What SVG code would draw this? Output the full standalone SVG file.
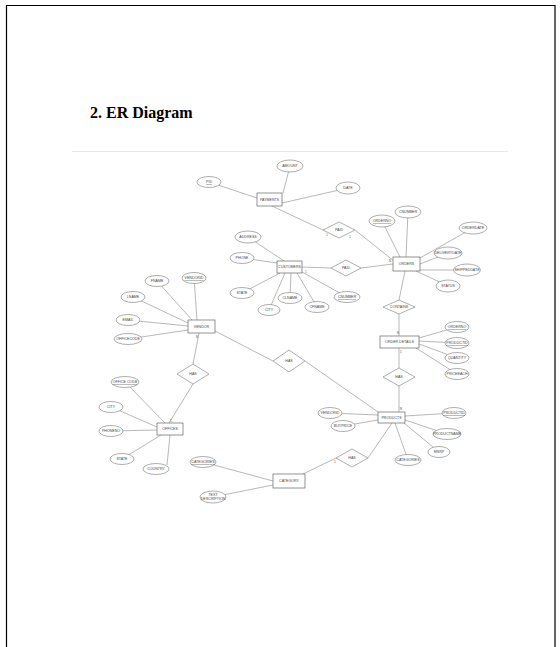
<svg xmlns="http://www.w3.org/2000/svg" width="560" height="647" viewBox="0 0 560 647">
<style>
.frame{fill:none;stroke:#000;stroke-width:1.2}
.sep{stroke:#e8e8e8;stroke-width:1}
.title{font-family:"Liberation Serif",serif;font-weight:bold;font-size:16px;fill:#000}
.e{fill:#fff;stroke:#777;stroke-width:0.6}
.r{fill:#fff;stroke:#666;stroke-width:0.7}
.d{fill:#fff;stroke:#777;stroke-width:0.6}
.c line,.c polyline{stroke:#888;stroke-width:0.6;fill:none}
.t{font-family:"Liberation Sans",Arial,sans-serif;font-size:3.6px;fill:#444;text-anchor:middle;dominant-baseline:central}
.k{text-decoration:underline}
.n{font-family:"Liberation Sans",Arial,sans-serif;font-size:3.2px;fill:#555;text-anchor:middle}
</style>
<rect width="560" height="647" fill="#fff"/>
<polyline class="frame" points="6.5,647 6.5,5.5 555,5.5 555,647"/>
<text class="title" x="90" y="118">2. ER Diagram</text>
<line class="sep" x1="72" y1="151.5" x2="508" y2="151.5"/>

<g id="connectors" class="c">
<line x1="209" y1="182" x2="257" y2="198"/>
<line x1="290" y1="166" x2="283" y2="193"/>
<line x1="348" y1="188" x2="282" y2="203"/>
<line x1="272" y1="206" x2="323" y2="230"/>
<line x1="355" y1="230" x2="394" y2="261"/>
<line x1="248" y1="237" x2="284" y2="261"/>
<line x1="242" y1="258" x2="277" y2="263"/>
<line x1="242" y1="293" x2="280" y2="273"/>
<line x1="269" y1="310" x2="285" y2="273"/>
<line x1="290" y1="298" x2="291" y2="273"/>
<line x1="317" y1="307" x2="297" y2="273"/>
<line x1="347" y1="297" x2="302" y2="272"/>
<line x1="302" y1="267" x2="331" y2="268"/>
<line x1="361" y1="268" x2="393" y2="264"/>
<line x1="382" y1="221" x2="400" y2="257"/>
<line x1="408" y1="212" x2="406" y2="257"/>
<line x1="473" y1="228" x2="420" y2="258"/>
<line x1="448" y1="253" x2="420" y2="264"/>
<line x1="467" y1="270" x2="420" y2="270"/>
<line x1="448" y1="286" x2="416" y2="271"/>
<line x1="405" y1="271" x2="399" y2="300"/>
<line x1="399" y1="314" x2="399" y2="336"/>
<line x1="457" y1="327" x2="419" y2="338"/>
<line x1="457" y1="343" x2="419" y2="341"/>
<line x1="457" y1="358" x2="419" y2="344"/>
<line x1="457" y1="374" x2="416" y2="348"/>
<line x1="399" y1="348" x2="399" y2="368"/>
<line x1="399" y1="386" x2="399" y2="412"/>
<line x1="157" y1="281" x2="192" y2="320"/>
<line x1="194" y1="278" x2="197" y2="320"/>
<line x1="133" y1="297" x2="188" y2="323"/>
<line x1="128" y1="320" x2="188" y2="326"/>
<line x1="128" y1="339" x2="188" y2="330"/>
<line x1="199" y1="333" x2="193" y2="364"/>
<line x1="193" y1="384" x2="169" y2="423"/>
<line x1="215" y1="331" x2="273" y2="361"/>
<line x1="305" y1="361" x2="378" y2="412"/>
<line x1="125" y1="382" x2="165" y2="423"/>
<line x1="111" y1="407" x2="157" y2="427"/>
<line x1="111" y1="431" x2="157" y2="430"/>
<line x1="122" y1="459" x2="161" y2="435"/>
<line x1="170" y1="435" x2="167" y2="465"/>
<line x1="330" y1="413" x2="378" y2="415"/>
<line x1="343" y1="426" x2="378" y2="420"/>
<line x1="454" y1="413" x2="405" y2="416"/>
<line x1="447" y1="434" x2="405" y2="420"/>
<line x1="439" y1="452" x2="404" y2="423"/>
<line x1="408" y1="460" x2="395" y2="423"/>
<line x1="368" y1="458" x2="392" y2="423"/>
<line x1="303" y1="474" x2="336" y2="458"/>
<line x1="203" y1="462" x2="273" y2="481"/>
<line x1="213" y1="497" x2="273" y2="485"/>
</g>

<g id="cardinality">
<text class="n" x="327" y="236">1</text>
<text class="n" x="350" y="238">1</text>
<text class="n" x="306" y="273">1</text>
<text class="n" x="390" y="262">N</text>
<text class="n" x="398" y="334">N</text>
<text class="n" x="401" y="353">1</text>
<text class="n" x="401" y="410">N</text>
<text class="n" x="197" y="338">N</text>
<text class="n" x="171" y="422">1</text>
<text class="n" x="335" y="463">1</text>
</g>

<g id="payments"><rect class="r" x="257" y="193" width="25" height="13"/><text class="t" x="269.5" y="199.5">PAYMENTS</text></g>
<g id="pid"><ellipse class="e" cx="209" cy="182" rx="12" ry="5.5"/><text class="t k" x="209" y="182">PID</text></g>
<g id="amount"><ellipse class="e" cx="290" cy="166" rx="13" ry="6"/><text class="t" x="290" y="166">AMOUNT</text></g>
<g id="date"><ellipse class="e" cx="348" cy="188" rx="12" ry="6"/><text class="t" x="348" y="188">DATE</text></g>
<g id="paid1"><polygon class="d" points="323,230 339,222 355,230 339,238"/><text class="t" x="339" y="230">PAID</text></g>

<g id="orders"><rect class="r" x="393" y="257" width="27" height="14"/><text class="t" x="406.5" y="264">ORDERS</text></g>
<g id="orderno1"><ellipse class="e" cx="382" cy="221" rx="13" ry="6"/><text class="t k" x="382" y="221">ORDERNO</text></g>
<g id="cnumber1"><ellipse class="e" cx="408" cy="212" rx="13" ry="6"/><text class="t" x="408" y="212">CNUMBER</text></g>
<g id="orderdate"><ellipse class="e" cx="473" cy="228" rx="14" ry="6"/><text class="t" x="473" y="228">ORDERDATE</text></g>
<g id="deliverydate"><ellipse class="e" cx="448" cy="253" rx="14" ry="6"/><text class="t" x="448" y="253">DELIVERYDATE</text></g>
<g id="shippeddate"><ellipse class="e" cx="467" cy="270" rx="13.5" ry="6"/><text class="t" x="467" y="270">SHIPPEDDATE</text></g>
<g id="status"><ellipse class="e" cx="448" cy="286" rx="12" ry="6"/><text class="t" x="448" y="286">STATUS</text></g>
<g id="contains"><polygon class="d" points="383,307 399,300 415,307 399,314"/><text class="t" x="399" y="307">CONTAINS</text></g>

<g id="customers"><rect class="r" x="277" y="261" width="25" height="12"/><text class="t" x="289.5" y="267">CUSTOMERS</text></g>
<g id="address"><ellipse class="e" cx="248" cy="237" rx="13" ry="6"/><text class="t" x="248" y="237">ADDRESS</text></g>
<g id="phone"><ellipse class="e" cx="242" cy="258" rx="12" ry="5.5"/><text class="t" x="242" y="258">PHONE</text></g>
<g id="state1"><ellipse class="e" cx="242" cy="293" rx="12" ry="5.5"/><text class="t" x="242" y="293">STATE</text></g>
<g id="city1"><ellipse class="e" cx="269" cy="310" rx="11" ry="5.5"/><text class="t" x="269" y="310">CITY</text></g>
<g id="clname"><ellipse class="e" cx="290" cy="298" rx="12" ry="5.5"/><text class="t" x="290" y="298">CLNAME</text></g>
<g id="cfname"><ellipse class="e" cx="317" cy="307" rx="12" ry="5.5"/><text class="t" x="317" y="307">CFNAME</text></g>
<g id="cnumber2"><ellipse class="e" cx="347" cy="297" rx="13" ry="5.5"/><text class="t k" x="347" y="297">CNUMBER</text></g>
<g id="paid2"><polygon class="d" points="331,268 346,260 361,268 346,276"/><text class="t" x="346" y="268">PAID</text></g>

<g id="vendor"><rect class="r" x="188" y="320" width="27" height="13"/><text class="t" x="201.5" y="326.5">VENDOR</text></g>
<g id="fname"><ellipse class="e" cx="157" cy="281" rx="12" ry="5.5"/><text class="t" x="157" y="281">FNAME</text></g>
<g id="vendorid1"><ellipse class="e" cx="194" cy="278" rx="12" ry="5.5"/><text class="t k" x="194" y="278">VENDORID</text></g>
<g id="lname"><ellipse class="e" cx="133" cy="297" rx="12" ry="5.5"/><text class="t" x="133" y="297">LNAME</text></g>
<g id="email"><ellipse class="e" cx="128" cy="320" rx="12" ry="5.5"/><text class="t" x="128" y="320">EMAIL</text></g>
<g id="officecode1"><ellipse class="e" cx="128" cy="339" rx="14" ry="5.5"/><text class="t" x="128" y="339">OFFICECODE</text></g>
<g id="has1"><polygon class="d" points="177,374 193,364 209,374 193,384"/><text class="t" x="193" y="374">HAS</text></g>
<g id="has2"><polygon class="d" points="273,361 289,350 305,361 289,372"/><text class="t" x="289" y="361">HAS</text></g>

<g id="offices"><rect class="r" x="157" y="423" width="26" height="12"/><text class="t" x="170" y="429">OFFICES</text></g>
<g id="officecode2"><ellipse class="e" cx="125" cy="382" rx="14" ry="5.5"/><text class="t k" x="125" y="382">OFFICE CODE</text></g>
<g id="city2"><ellipse class="e" cx="111" cy="407" rx="12" ry="5.5"/><text class="t" x="111" y="407">CITY</text></g>
<g id="phoneno"><ellipse class="e" cx="111" cy="431" rx="12" ry="5.5"/><text class="t" x="111" y="431">PHONENO</text></g>
<g id="state2"><ellipse class="e" cx="122" cy="459" rx="12" ry="5.5"/><text class="t" x="122" y="459">STATE</text></g>
<g id="country"><ellipse class="e" cx="156" cy="469" rx="13" ry="5.5"/><text class="t" x="156" y="469">COUNTRY</text></g>

<g id="orderdetails"><rect class="r" x="380" y="336" width="39" height="12"/><text class="t" x="399.5" y="342">ORDER DETAILS</text></g>
<g id="orderno2"><ellipse class="e" cx="457" cy="327" rx="12" ry="5.5"/><text class="t k" x="457" y="327">ORDERNO</text></g>
<g id="productid1"><ellipse class="e" cx="457" cy="343" rx="12" ry="5.5"/><text class="t k" x="457" y="343">PRODUCTID</text></g>
<g id="quantity"><ellipse class="e" cx="457" cy="358" rx="12" ry="5.5"/><text class="t" x="457" y="358">QUANTITY</text></g>
<g id="priceeach"><ellipse class="e" cx="457" cy="374" rx="12" ry="5.5"/><text class="t" x="457" y="374">PRICEEACH</text></g>
<g id="has3"><polygon class="d" points="383,377 399,368 415,377 399,386"/><text class="t" x="399" y="377">HAS</text></g>

<g id="products"><rect class="r" x="378" y="412" width="27" height="11"/><text class="t" x="391.5" y="417.5">PRODUCTS</text></g>
<g id="vendorid2"><ellipse class="e" cx="330" cy="413" rx="12" ry="5.5"/><text class="t" x="330" y="413">VENDORID</text></g>
<g id="buyprice"><ellipse class="e" cx="343" cy="426" rx="12" ry="5.5"/><text class="t" x="343" y="426">BUYPRICE</text></g>
<g id="productid2"><ellipse class="e" cx="454" cy="413" rx="12" ry="5.5"/><text class="t k" x="454" y="413">PRODUCTID</text></g>
<g id="productname"><ellipse class="e" cx="447" cy="434" rx="14" ry="5.5"/><text class="t" x="447" y="434">PRODUCTNAME</text></g>
<g id="msrp"><ellipse class="e" cx="439" cy="452" rx="11" ry="5.5"/><text class="t" x="439" y="452">MSRP</text></g>
<g id="categories1"><ellipse class="e" cx="408" cy="460" rx="13" ry="5.5"/><text class="t" x="408" y="460">CATEGORIES</text></g>
<g id="has4"><polygon class="d" points="336,458 352,449 368,458 352,467"/><text class="t" x="352" y="458">HAS</text></g>

<g id="category"><rect class="r" x="273" y="474" width="32" height="14"/><text class="t" x="289" y="481">CATEGORY</text></g>
<g id="categories2"><ellipse class="e" cx="203" cy="462" rx="13" ry="5.5"/><text class="t k" x="203" y="462">CATEGORIES</text></g>
<g id="textdescription"><ellipse class="e" cx="213" cy="497" rx="13" ry="6"/><text class="t" x="213" y="495.3">TEXT</text><text class="t" x="213" y="499.3">DESCRIPTION</text></g>
</svg>
